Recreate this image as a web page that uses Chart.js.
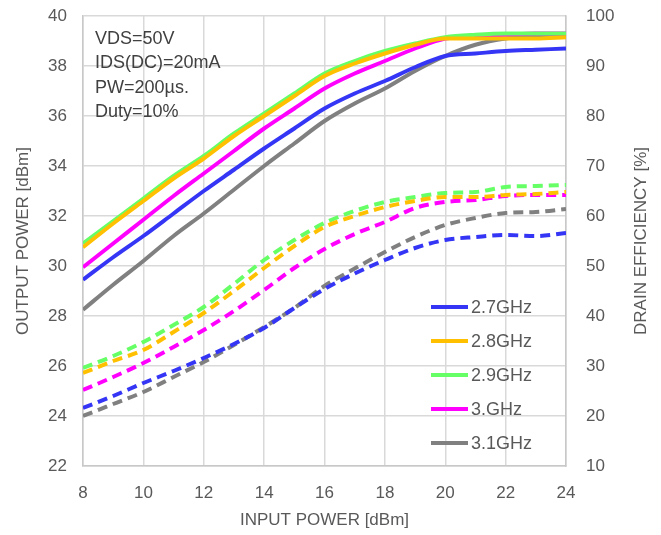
<!DOCTYPE html>
<html>
<head>
<meta charset="utf-8">
<script src="https://cdn.jsdelivr.net/npm/chart.js@4.4.1/dist/chart.umd.min.js"></script>
<style>
  html, body { margin: 0; padding: 0; background: #fff; }
  #wrap { width: 661px; height: 535px; position: relative; }
</style>
</head>
<body>
<div id="wrap"><canvas id="myChart" width="661" height="535"></canvas></div>
<script>
// input power [dBm]
const inputPower = [8, 9, 10, 11, 12, 13, 14, 15, 16, 17, 18, 19, 20, 21, 22, 23, 24];

const labels = ["2.7GHz", "2.8GHz", "2.9GHz", "3.GHz", "3.1GHz"];
const colors = ["#3535F5", "#FFC000", "#66FF66", "#FF00FF", "#808080"];

// output power [dBm]
const pout27 = [29.45, 30.35, 31.2, 32.1, 33.0, 33.85, 34.7, 35.5, 36.3, 36.9, 37.4, 37.95, 38.4, 38.5, 38.6, 38.65, 38.7];
const pout28 = [30.75, 31.7, 32.6, 33.5, 34.3, 35.2, 36.0, 36.8, 37.6, 38.1, 38.5, 38.85, 39.1, 39.1, 39.1, 39.1, 39.15];
const pout29 = [30.9, 31.8, 32.7, 33.6, 34.4, 35.3, 36.1, 36.9, 37.7, 38.2, 38.6, 38.9, 39.15, 39.25, 39.3, 39.3, 39.3];
const pout30 = [29.95, 30.9, 31.85, 32.8, 33.7, 34.6, 35.5, 36.3, 37.1, 37.7, 38.2, 38.7, 39.1, 39.2, 39.25, 39.3, 39.3];
const pout31 = [28.25, 29.25, 30.2, 31.2, 32.1, 33.05, 34.0, 34.9, 35.8, 36.5, 37.1, 37.8, 38.4, 38.85, 39.1, 39.2, 39.25];

// drain efficiency [%]
const eff27 = [21.6, 24.0, 26.6, 29.0, 31.6, 34.4, 37.6, 41.6, 45.4, 48.5, 51.2, 53.6, 55.2, 55.8, 56.2, 56.0, 56.6];
const eff28 = [28.6, 31.0, 33.2, 36.8, 40.6, 45.0, 49.6, 54.0, 57.8, 60.0, 61.8, 63.0, 63.8, 63.8, 64.2, 64.4, 64.8];
const eff29 = [29.6, 32.0, 34.8, 38.2, 41.8, 46.4, 51.2, 55.2, 58.6, 61.0, 62.8, 63.8, 64.6, 64.8, 65.8, 66.0, 66.2];
const eff30 = [25.2, 27.8, 30.6, 33.8, 37.2, 41.0, 45.2, 49.6, 53.4, 56.4, 58.8, 61.6, 62.8, 63.2, 64.0, 64.2, 64.2];
const eff31 = [20.0, 22.4, 24.8, 27.8, 30.8, 34.2, 37.8, 41.6, 46.0, 49.5, 52.8, 55.8, 58.2, 59.6, 60.6, 60.8, 61.4];

const notes = ["VDS=50V", "IDS(DC)=20mA", "PW=200\u00b5s.", "Duty=10%"];

const poutSeries = [pout27, pout28, pout29, pout30, pout31];
const effSeries = [eff27, eff28, eff29, eff30, eff31];

const toPoints = (ys) => ys.map((y, i) => ({ x: inputPower[i], y: y }));

const datasets = [];
poutSeries.forEach((s, i) => {
  datasets.push({
    label: labels[i],
    data: toPoints(s),
    borderColor: colors[i],
    backgroundColor: colors[i],
    borderWidth: 4,
    pointRadius: 0,
    cubicInterpolationMode: "monotone",
    yAxisID: "y",
  });
});
effSeries.forEach((s, i) => {
  datasets.push({
    label: labels[i] + " eff",
    data: toPoints(s),
    borderColor: colors[i],
    backgroundColor: colors[i],
    borderWidth: 4,
    borderDash: [10, 6],
    pointRadius: 0,
    cubicInterpolationMode: "monotone",
    yAxisID: "y1",
  });
});

const textColor = "#595959";
const font = { family: "'Liberation Sans', Arial, sans-serif", size: 17 };

// notes in the top left, legend inside the plot, right axis title
const overlay = {
  id: "overlay",
  afterDraw(chart) {
    const ctx = chart.ctx;
    const area = chart.chartArea;
    ctx.save();
    ctx.font = "18px 'Liberation Sans', Arial, sans-serif";
    ctx.fillStyle = "#404040";
    ctx.textBaseline = "middle";
    ctx.textAlign = "left";
    notes.forEach((t, i) => ctx.fillText(t, area.left + 12, 39 + i * 24.5));

    ctx.fillStyle = textColor;
    labels.forEach((t, i) => {
      const y = 307 + i * 34;
      ctx.strokeStyle = colors[i];
      ctx.lineWidth = 4;
      ctx.beginPath();
      ctx.moveTo(431, y);
      ctx.lineTo(468, y);
      ctx.stroke();
      ctx.fillText(t, 471, y + 1);
    });

    ctx.font = "17px 'Liberation Sans', Arial, sans-serif";
    ctx.textAlign = "center";
    ctx.translate(641, (area.top + area.bottom) / 2);
    ctx.rotate(-Math.PI / 2);
    ctx.fillText("DRAIN EFFICIENCY [%]", 0, 0);
    ctx.restore();
  },
};

// keep the tick padding from pushing the plot area down
const trimPad = (s) => { s.paddingTop = 9; s.paddingBottom = 9; };

new Chart(document.getElementById("myChart"), {
  type: "line",
  data: { datasets: datasets },
  options: {
    responsive: false,
    animation: false,
    layout: { padding: { top: 16, left: 0, right: 0, bottom: 0 } },
    plugins: { legend: { display: false }, tooltip: { enabled: false } },
    scales: {
      x: {
        type: "linear",
        min: 8,
        max: 24,
        ticks: { stepSize: 2, color: textColor, font: font, padding: 17 },
        grid: { color: "#d9d9d9", lineWidth: 1.5, drawTicks: false },
        border: { color: "#c8c8c8", width: 1.5 },
        title: { display: true, text: "INPUT POWER [dBm]", color: textColor, font: font, padding: { top: 2 } },
        afterFit: (s) => { s.height = 69; },
      },
      y: {
        position: "left",
        min: 22,
        max: 40,
        ticks: { stepSize: 2, color: textColor, font: font, padding: 16 },
        grid: { color: "#d9d9d9", lineWidth: 1.5, drawTicks: false },
        border: { color: "#c8c8c8", width: 1.5 },
        title: { display: true, text: "OUTPUT POWER [dBm]", color: textColor, font: font, padding: { top: 13, bottom: 0 } },
        afterFit: (s) => { s.width = 83; trimPad(s); },
      },
      y1: {
        position: "right",
        min: 10,
        max: 100,
        ticks: { stepSize: 10, color: textColor, font: font, padding: 20 },
        grid: { drawOnChartArea: false, drawTicks: false },
        border: { color: "#c8c8c8", width: 1.5 },
        afterFit: (s) => { s.width = 95; trimPad(s); },
      },
    },
  },
  plugins: [overlay],
});
</script>
</body>
</html>
